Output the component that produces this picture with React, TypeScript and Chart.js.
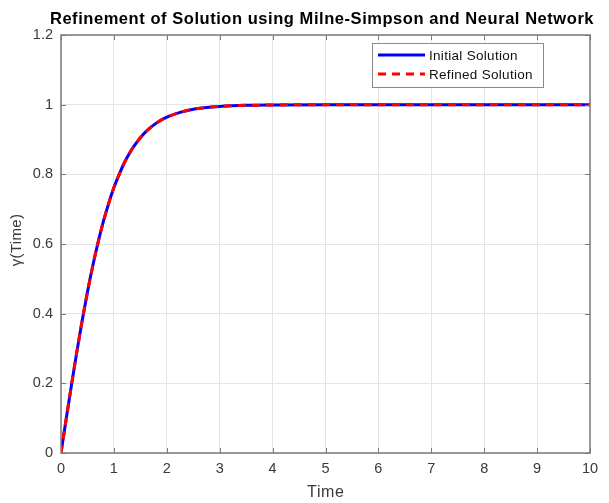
import React, { useEffect, useRef } from "react";
import { Chart, registerables } from "chart.js";

Chart.register(...registerables);

const timeValues = [0, 0.1, 0.2, 0.3, 0.4, 0.5, 0.6, 0.7, 0.8, 0.9, 1.0, 1.1, 1.2, 1.3, 1.4, 1.5, 1.6, 1.8, 2.0, 2.25, 2.5, 2.75, 3.0, 3.5, 4.0, 5, 6, 7, 8, 9, 10];
const initialSolution = [0, 0.1, 0.197, 0.291, 0.38, 0.462, 0.537, 0.604, 0.664, 0.716, 0.762, 0.8, 0.834, 0.862, 0.885, 0.905, 0.922, 0.947, 0.964, 0.978, 0.987, 0.992, 0.995, 0.998, 0.999, 1, 1, 1, 1, 1, 1];
const refinedSolution = [0, 0.1, 0.197, 0.291, 0.38, 0.462, 0.537, 0.604, 0.664, 0.716, 0.762, 0.8, 0.834, 0.862, 0.885, 0.905, 0.922, 0.947, 0.964, 0.978, 0.987, 0.992, 0.995, 0.998, 0.999, 1, 1, 1, 1, 1, 1];
const xTicks = [0, 1, 2, 3, 4, 5, 6, 7, 8, 9, 10];
const yTicks = [0, 0.2, 0.4, 0.6, 0.8, 1, 1.2];
const seriesNames = ["Initial Solution", "Refined Solution"];
const titleText = "Refinement of Solution using Milne-Simpson and Neural Network";
const xLabel = "Time";
const yLabel = "\u03b3(Time)";

const FONT = "'Liberation Sans', Arial, Helvetica, sans-serif";
const AXIS_COLOR = "#7a7a7a";
const TEXT_COLOR = "#3a3a3a";

const decorPlugin = {
  id: "decor",
  afterDraw(chart: any) {
    const ctx = chart.ctx as any;
    const { left, right, top, bottom } = chart.chartArea;
    const xs = chart.scales.x;
    const ys = chart.scales.y;
    ctx.save();
    // box
    ctx.strokeStyle = AXIS_COLOR;
    ctx.lineWidth = 1.5;
    ctx.strokeRect(left, top, right - left, bottom - top);
    // inward ticks
    ctx.lineWidth = 1;
    const tl = 5;
    ctx.beginPath();
    xTicks.forEach((v) => {
      const px = Math.round(xs.getPixelForValue(v)) + 0.5;
      ctx.moveTo(px, bottom);
      ctx.lineTo(px, bottom - tl);
      ctx.moveTo(px, top);
      ctx.lineTo(px, top + tl);
    });
    yTicks.forEach((v) => {
      const py = Math.round(ys.getPixelForValue(v)) + 0.5;
      ctx.moveTo(left, py);
      ctx.lineTo(left + tl, py);
      ctx.moveTo(right, py);
      ctx.lineTo(right - tl, py);
    });
    ctx.stroke();

    // title
    ctx.fillStyle = "#000";
    ctx.font = `bold 16.5px ${FONT}`;
    ctx.letterSpacing = "0.55px";
    ctx.textAlign = "center";
    ctx.textBaseline = "middle";
    ctx.fillText(titleText, 322, 19);

    // axis labels
    ctx.fillStyle = TEXT_COLOR;
    ctx.font = `16px ${FONT}`;
    ctx.letterSpacing = "0.6px";
    ctx.fillText(xLabel, (left + right) / 2 + 0.3, 493);
    ctx.save();
    ctx.font = `15px ${FONT}`;
    ctx.letterSpacing = "0.3px";
    ctx.translate(17, 240);
    ctx.rotate(-Math.PI / 2);
    ctx.fillText(yLabel, 0, 0);
    ctx.restore();

    // legend
    const lx = 372, ly = 43, lw = 171, lh = 44;
    ctx.fillStyle = "#fff";
    ctx.fillRect(lx, ly, lw, lh);
    ctx.strokeStyle = "#8a8a8a";
    ctx.lineWidth = 1;
    ctx.strokeRect(lx + 0.5, ly + 0.5, lw, lh);
    const rows = [
      { y: ly + 12, color: "#0000ff", dash: [] as number[] },
      { y: ly + 31, color: "#ff0000", dash: [8, 6] },
    ];
    rows.forEach((r, i) => {
      ctx.beginPath();
      ctx.setLineDash(r.dash);
      ctx.strokeStyle = r.color;
      ctx.lineWidth = 3;
      ctx.moveTo(378, r.y);
      ctx.lineTo(425, r.y);
      ctx.stroke();
      ctx.setLineDash([]);
      ctx.fillStyle = "#111";
      ctx.font = `13.5px ${FONT}`;
      ctx.letterSpacing = "0.3px";
      ctx.textAlign = "left";
      ctx.textBaseline = "middle";
      ctx.fillText(seriesNames[i], 429, r.y + 1);
    });
    ctx.letterSpacing = "0px";
    ctx.restore();
  },
};

export default function App() {
  const ref = useRef<HTMLCanvasElement | null>(null);
  useEffect(() => {
    if (!ref.current) return;
    const chart = new Chart(ref.current, {
      type: "line",
      data: {
        datasets: [
          {
            label: seriesNames[0],
            data: timeValues.map((t, i) => ({ x: t, y: initialSolution[i] })),
            borderColor: "#0000ff",
            borderWidth: 3,
            pointRadius: 0,
            cubicInterpolationMode: "monotone",
            order: 2,
          },
          {
            label: seriesNames[1],
            data: timeValues.map((t, i) => ({ x: t, y: refinedSolution[i] })),
            borderColor: "#ff0000",
            borderWidth: 3,
            borderDash: [8, 6],
            pointRadius: 0,
            cubicInterpolationMode: "monotone",
            order: 1,
          },
        ],
      },
      options: {
        responsive: false,
        animation: false,
        layout: { padding: { left: 0, right: 19, top: 35, bottom: 0 } },
        plugins: { legend: { display: false }, title: { display: false }, tooltip: { enabled: false } },
        scales: {
          x: {
            type: "linear",
            min: 0,
            max: 10,
            afterFit: (s: any) => { s.height = 50; },
            afterBuildTicks: (s: any) => { s.ticks = xTicks.map((v) => ({ value: v })); },
            grid: { color: "#e4e4e4", drawTicks: false, lineWidth: 1 },
            border: { display: false },
            ticks: { padding: 7, color: TEXT_COLOR, font: { family: FONT, size: 14.5 }, maxRotation: 0, callback: (v: any) => String(v) },
          },
          y: {
            type: "linear",
            min: 0,
            max: 1.2,
            afterFit: (s: any) => { s.width = 61; },
            afterBuildTicks: (s: any) => { s.ticks = yTicks.map((v) => ({ value: v })); },
            grid: { color: "#e4e4e4", drawTicks: false, lineWidth: 1 },
            border: { display: false },
            ticks: { padding: 8, color: TEXT_COLOR, font: { family: FONT, size: 14.5 }, callback: (v: any) => String(Math.round(Number(v) * 10) / 10) },
          },
        },
      },
      plugins: [decorPlugin],
    } as any);
    return () => chart.destroy();
  }, []);
  return (
    <div style={{ position: "absolute", left: 0, top: 0, width: 609, height: 503, background: "#fff" }}>
      <canvas ref={ref} width={609} height={503} style={{ width: 609, height: 503 }} />
    </div>
  );
}
